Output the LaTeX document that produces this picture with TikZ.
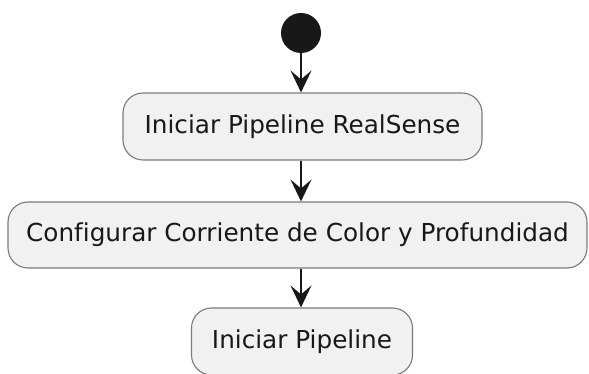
\documentclass[tikz,border=0pt]{standalone}
\usepackage{fontspec}
\setmainfont[Ligatures={NoCommon}]{DejaVu Sans}
\usetikzlibrary{arrows.meta}
\definecolor{actfill}{HTML}{F1F1F1}
\definecolor{actborder}{HTML}{7A7A7A}
\definecolor{ink}{HTML}{181818}
\tikzset{
  actbox/.style={draw=actborder, fill=actfill, line width=1.1pt, rounded corners=20pt,
    minimum height=67pt, inner sep=0pt, font=\fontsize{24.7}{29}\selectfont, text=ink},
  flow/.style={draw=ink, line width=1.6pt, -{Stealth[length=22pt,width=21pt,inset=9pt]}}
}
\begin{document}
\begin{tikzpicture}[x=1pt,y=-1pt]
\useasboundingbox (0,0) rectangle (589,374);
\node[circle, fill=ink, minimum size=40pt, inner sep=0pt] (start) at (301,33) {};
\node[actbox, minimum width=359pt] (a1) at (302.5,126.5) {Iniciar Pipeline RealSense};
\node[actbox, minimum width=579pt, minimum height=66pt] (a2) at (297.5,235) {Configurar Corriente de Color y Profundidad};
\node[actbox, minimum width=221pt] (a3) at (302,341.5) {Iniciar Pipeline};
\draw[flow] (start.south) -- (a1.north -| start);
\draw[flow] (a1.south -| start) -- (a2.north -| start);
\draw[flow] (a2.south -| start) -- (a3.north -| start);
\end{tikzpicture}
\end{document}
